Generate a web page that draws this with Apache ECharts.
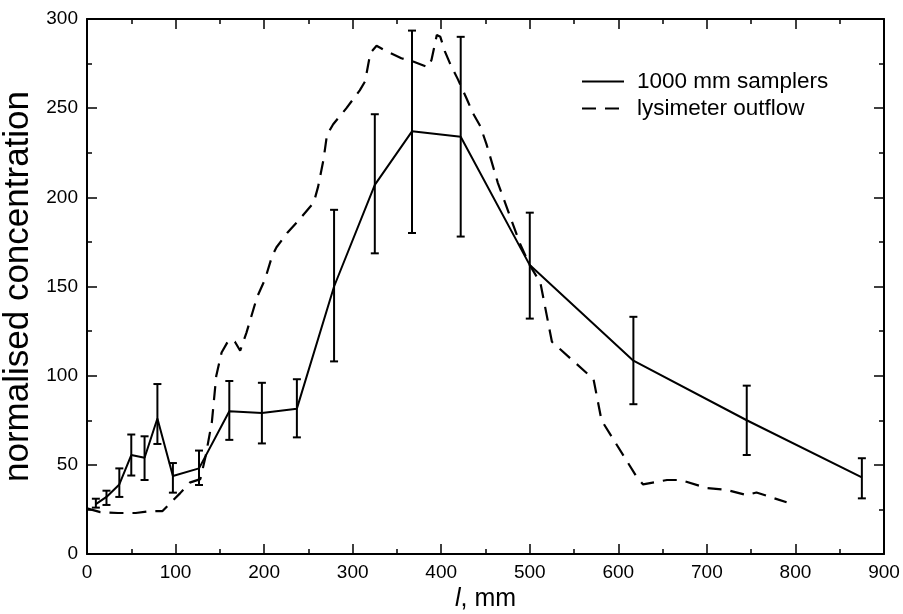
<!DOCTYPE html>
<html>
<head>
<meta charset="utf-8">
<script src="https://cdn.jsdelivr.net/npm/echarts@6/dist/echarts.min.js"></script>
<style>
html,body{margin:0;padding:0;background:#fff;}
#chart{width:903px;height:614px;}
</style>
</head>
<body>
<div id="chart"></div>
<script>
// ---- data ----
const samplerX    = [10, 22, 36.5, 50, 65, 79.5, 97, 126.5, 160.7, 197.5, 237, 279, 325, 367, 422, 500, 617, 745, 875];
const samplerY    = [28, 32, 39, 55.5, 54, 76, 43.7, 48, 80, 79, 81.5, 150, 207, 237, 234, 162, 108.4, 75, 43];
const samplerLow  = [26, 27.5, 32, 44, 41.5, 61.7, 34.4, 38.7, 64, 62, 65.4, 108, 168.6, 180, 178, 132, 84, 55.5, 31.2];
const samplerHigh = [31, 35.5, 48, 67, 66, 95.3, 51, 58, 97, 96, 98, 193, 246.6, 293.5, 290, 191.4, 133, 94.4, 53.7];

const lysX = [0, 15, 35, 55, 70, 85, 95, 105, 116, 128, 134, 141, 146, 152, 160, 167, 173, 180, 192, 201, 209, 214, 226, 237, 256, 261, 267, 271, 278, 293, 308, 314, 320, 327, 338, 355, 369, 385, 389, 395, 399, 404, 410, 419, 429, 436, 444, 451, 464, 489, 500, 512, 525, 572, 581, 621, 628, 655, 670, 700, 722, 745, 756, 790];
const lysY = [25.6, 23.5, 23, 23, 24, 24, 29, 34, 40, 42, 55, 74, 100, 113, 120, 119, 114, 124, 144, 154, 167, 172, 180, 186, 197, 206, 221, 235, 241, 250, 260, 265, 281, 285, 282, 278, 276, 273, 277, 291, 290, 282, 275, 266, 255, 247, 240, 230, 208, 174, 162, 152, 119, 98, 75, 43, 39, 41.5, 41.5, 37, 36, 33, 34.5, 29];

const seriesNames = ['1000 mm samplers', 'lysimeter outflow'];
const xTicks = {min: 0, max: 900, interval: 100};
const yTicks = {min: 0, max: 300, interval: 50};

// ---- build ----
const samplerData = samplerX.map((x, i) => [x, samplerY[i]]);
const errData = samplerX.map((x, i) => [x, samplerLow[i], samplerHigh[i]]);
const lysData = lysX.map((x, i) => [x, lysY[i]]);

const FONT = 'Liberation Sans';
const axisCommon = {
  type: 'value',
  axisLine: {show: true, onZero: false, lineStyle: {color: '#000', width: 2}},
  axisTick: {show: true, inside: true, length: 10, lineStyle: {color: '#000', width: 1.5}},
  minorTick: {show: true, splitNumber: 2, length: 5, lineStyle: {color: '#000', width: 1.5}},
  splitLine: {show: false},
  minorSplitLine: {show: false}
};

const chart = echarts.init(document.getElementById('chart'), null, {renderer: 'canvas'});
chart.setOption({
  backgroundColor: '#fff',
  animation: false,
  textStyle: {fontFamily: FONT, color: '#000'},
  grid: {left: 87, right: 19, top: 19, bottom: 60, containLabel: false, outerBoundsMode: 'none'},
  legend: {
    data: seriesNames,
    orient: 'vertical',
    left: 581, top: 70, padding: 0,
    itemWidth: 42, itemHeight: 14, itemGap: 4,
    itemStyle: {opacity: 0},
    textStyle: {fontFamily: FONT, fontSize: 22.5, color: '#000', padding: [0, 0, 0, 8]},
    selectedMode: false
  },
  xAxis: [
    Object.assign({}, axisCommon, {
      min: xTicks.min, max: xTicks.max, interval: xTicks.interval, position: 'bottom',
      axisLabel: {color: '#000', fontSize: 19, fontFamily: FONT, margin: 9},
      name: '{i|l}, mm', nameLocation: 'middle', nameGap: 32,
      nameTextStyle: {fontSize: 25, fontFamily: FONT, color: '#000',
        rich: {i: {fontStyle: 'italic', fontSize: 25, fontFamily: FONT, color: '#000'}}}
    }),
    Object.assign({}, axisCommon, {
      min: xTicks.min, max: xTicks.max, interval: xTicks.interval, position: 'top',
      axisLabel: {show: false}
    })
  ],
  yAxis: [
    Object.assign({}, axisCommon, {
      min: yTicks.min, max: yTicks.max, interval: yTicks.interval, position: 'left',
      axisLabel: {color: '#000', fontSize: 19, fontFamily: FONT, margin: 9},
      name: 'normalised concentration', nameLocation: 'middle', nameGap: 34,
      nameTextStyle: {fontSize: 35, fontFamily: FONT, color: '#000'}
    }),
    Object.assign({}, axisCommon, {
      min: yTicks.min, max: yTicks.max, interval: yTicks.interval, position: 'right',
      axisLabel: {show: false}
    })
  ],
  series: [
    {
      name: seriesNames[0], type: 'line', data: samplerData,
      symbol: 'none', lineStyle: {color: '#000', width: 2}, itemStyle: {color: '#000'},
      xAxisIndex: 0, yAxisIndex: 0, z: 3
    },
    {
      name: seriesNames[1], type: 'line', data: lysData,
      symbol: 'none', lineStyle: {color: '#000', width: 2.2, type: [14, 9]}, itemStyle: {color: '#000'},
      xAxisIndex: 0, yAxisIndex: 0, z: 2
    },
    {
      name: 'err', type: 'custom', data: errData,
      encode: {x: 0, y: [1, 2]},
      xAxisIndex: 0, yAxisIndex: 0, z: 4,
      renderItem: function (params, api) {
        const x = api.value(0);
        const lo = api.coord([x, api.value(1)]);
        const hi = api.coord([x, api.value(2)]);
        const w = 4;
        const st = {stroke: '#000', lineWidth: 2};
        return {
          type: 'group',
          children: [
            {type: 'line', shape: {x1: lo[0], y1: lo[1], x2: hi[0], y2: hi[1]}, style: st},
            {type: 'line', shape: {x1: lo[0] - w, y1: lo[1], x2: lo[0] + w, y2: lo[1]}, style: st},
            {type: 'line', shape: {x1: hi[0] - w, y1: hi[1], x2: hi[0] + w, y2: hi[1]}, style: st}
          ]
        };
      }
    }
  ]
});
</script>
</body>
</html>
